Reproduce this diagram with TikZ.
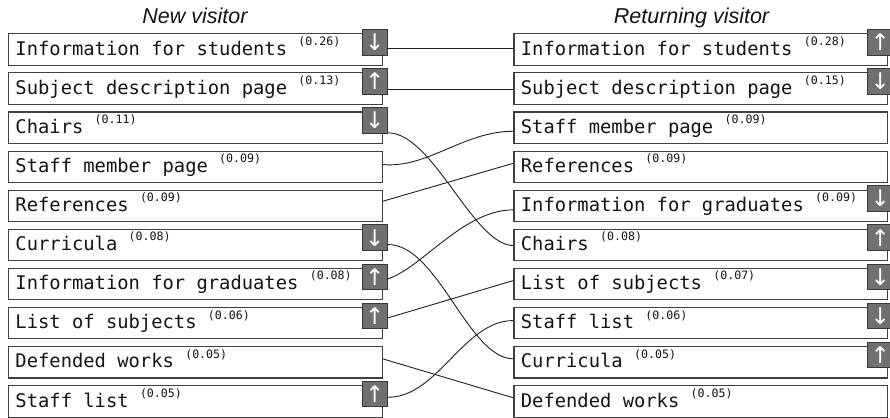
\documentclass[tikz,border=0pt]{standalone}
\usepackage{fontspec}
\setmainfont{Liberation Sans}
\newfontfamily\boxfont{DejaVu Sans Mono}
\newfontfamily\arrowfont{DejaVu Sans}
\usetikzlibrary{calc}

\definecolor{frame}{HTML}{404040}
\definecolor{badgefill}{HTML}{707070}
\definecolor{badgeframe}{HTML}{383838}
\definecolor{wire}{HTML}{202020}
\definecolor{ink}{HTML}{141414}

\tikzset{
  pagebox/.style={draw=frame, line width=1.1pt, fill=white, rectangle,
    anchor=north west, minimum width=373.7pt, minimum height=31.5pt, inner sep=0pt},
  pagelabel/.style={anchor=base west, inner sep=0pt, text=ink,
    font=\boxfont\fontsize{18.8}{18.8}\selectfont},
  badge/.style={draw=badgeframe, fill=badgefill, line width=1pt,
    minimum size=25.5pt, inner sep=0pt, text=white,
    font=\arrowfont\fontsize{23}{23}\selectfont},
  wire/.style={draw=wire, line width=0.9pt},
  heading/.style={font=\itshape\fontsize{21.5}{21.5}\selectfont, anchor=base,
    inner sep=0pt, text=ink},
}

% share of visits, set small and raised after the page name
\newcommand\share[1]{\raisebox{9.8pt}{\fontsize{11.6}{11}\selectfont(#1)}}

% one page row: name, left x, top y, page name, share
\newcommand\pagerow[5]{%
  \node[pagebox] (#1) at (#2,#3) {};
  \node[pagelabel] (#1t) at ($(#1.north west)+(7.3,22)$) {#4 \share{#5}};
}
% trend badge on a row: badge name, row name, arrow
\newcommand\trend[3]{%
  \node[badge] (#1) at ($(#2.north east)+(-8,9)$) {#3};
}

\begin{document}
\begin{tikzpicture}[x=1pt, y=-1pt]
\useasboundingbox (0,0) rectangle (890,417);

% column headings
\node[heading] (newhead) at (195,24) {New visitor};
\node[heading] (rethead) at (691.5,24) {Returning visitor};

% new visitors
\pagerow{L1}{8}{33.3}{Information for students}{0.26}
\pagerow{L2}{8}{72.38}{Subject description page}{0.13}
\pagerow{L3}{8}{111.46}{Chairs}{0.11}
\pagerow{L4}{8}{150.54}{Staff member page}{0.09}
\pagerow{L5}{8}{189.62}{References}{0.09}
\pagerow{L6}{8}{228.7}{Curricula}{0.08}
\pagerow{L7}{8}{267.78}{Information for graduates}{0.08}
\pagerow{L8}{8}{306.86}{List of subjects}{0.06}
\pagerow{L9}{8}{345.94}{Defended works}{0.05}
\pagerow{L10}{8}{385.02}{Staff list}{0.05}

% returning visitors
\pagerow{R1}{513.4}{33.3}{Information for students}{0.28}
\pagerow{R2}{513.4}{72.38}{Subject description page}{0.15}
\pagerow{R3}{513.4}{111.46}{Staff member page}{0.09}
\pagerow{R4}{513.4}{150.54}{References}{0.09}
\pagerow{R5}{513.4}{189.62}{Information for graduates}{0.09}
\pagerow{R6}{513.4}{228.7}{Chairs}{0.08}
\pagerow{R7}{513.4}{267.78}{List of subjects}{0.07}
\pagerow{R8}{513.4}{306.86}{Staff list}{0.06}
\pagerow{R9}{513.4}{345.94}{Curricula}{0.05}
\pagerow{R10}{513.4}{385.02}{Defended works}{0.05}

% trend badges
\trend{Lb1}{L1}{↓}
\trend{Lb2}{L2}{↑}
\trend{Lb3}{L3}{↓}
\trend{Lb6}{L6}{↓}
\trend{Lb7}{L7}{↑}
\trend{Lb8}{L8}{↑}
\trend{Lb10}{L10}{↑}
\trend{Rb1}{R1}{↑}
\trend{Rb2}{R2}{↓}
\trend{Rb5}{R5}{↓}
\trend{Rb6}{R6}{↑}
\trend{Rb7}{R7}{↓}
\trend{Rb8}{R8}{↓}
\trend{Rb9}{R9}{↑}

% wire ends on the new-visitor side
\coordinate (a1) at ($(L1.east -| Lb1.east)+(0,-0.75)$);
\coordinate (a2) at ($(L2.east -| Lb2.east)+(0,1.17)$);
\coordinate (a3) at ($(L3.east -| Lb3.east)+(0,5.09)$);
\coordinate (a4) at ($(L4.east)+(0,-2.29)$);
\coordinate (a5) at ($(L5.east)+(0,-4.67)$);
\coordinate (a6) at ($(L6.east -| Lb6.east)+(0,-0.45)$);
\coordinate (a7) at ($(L7.east -| Lb7.east)+(0,-5.23)$);
\coordinate (a8) at ($(L8.east -| Lb8.east)+(0,-5.31)$);
\coordinate (a9) at ($(L9.east)+(0,-3.39)$);
\coordinate (a10) at ($(L10.east -| Lb10.east)+(0,-4.07)$);

% wire ends on the returning-visitor side
\coordinate (b1) at ($(R1.west)+(0,-0.75)$);
\coordinate (b2) at ($(R2.west)+(0,1.17)$);
\coordinate (b3) at ($(R3.west)+(0,3.49)$);
\coordinate (b4) at ($(R4.west)+(0,-3.59)$);
\coordinate (b5) at ($(R5.west)+(0,3.93)$);
\coordinate (b6) at ($(R6.west)+(0,0.55)$);
\coordinate (b7) at ($(R7.west)+(0,-3.53)$);
\coordinate (b8) at ($(R8.west)+(0,-2.61)$);
\coordinate (b9) at ($(R9.west)+(0,-3.39)$);
\coordinate (b10) at ($(R10.west)+(0,-3.47)$);

% links between the two rankings
\draw[wire] (a1) -- (b1);
\draw[wire] (a2) -- (b2);
\draw[wire] (a3) .. controls +(45,0) and +(-40,0) .. (b6);
\draw[wire] (a4) .. controls +(45,4) and +(-50,0) .. (b3);
\draw[wire] (a5) -- (b4);
\draw[wire] (a6) .. controls +(50,0) and +(-45,0) .. (b9);
\draw[wire] (a7) .. controls +(35,-12) and +(-50,0) .. (b5);
\draw[wire] (a8) -- (b7);
\draw[wire] (a9) -- (b10);
\draw[wire] (a10) .. controls +(50,0) and +(-50,0) .. (b8);
\end{tikzpicture}
\end{document}
